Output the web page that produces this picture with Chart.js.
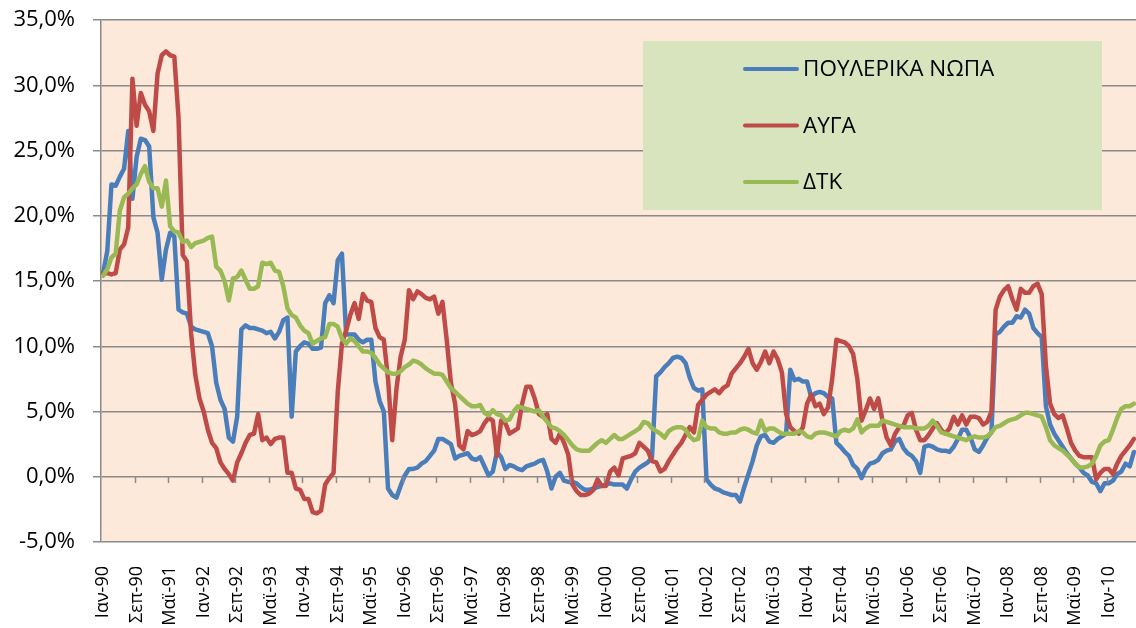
<!DOCTYPE html>
<html>
<head>
<meta charset="utf-8">
<script src="https://cdn.jsdelivr.net/npm/chart.js@4.4.1/dist/chart.umd.min.js"></script>
<style>
  html, body { margin: 0; padding: 0; background: #ffffff; }
  #chart { display: block; }
</style>
</head>
<body>
<canvas id="chart" width="1136" height="628"></canvas>
<script>
// --- Δεδομένα: μηνιαίες μεταβολές (%) Ιαν-90 έως Ιουλ-10 ---

const monthNames = ['Ιαν', 'Φεβ', 'Μαρ', 'Απρ', 'Μαϊ', 'Ιουν', 'Ιουλ', 'Αυγ', 'Σεπ', 'Οκτ', 'Νοε', 'Δεκ'];
const firstYear = 1990;
const monthCount = 247;
const seriesNames = ['ΠΟΥΛΕΡΙΚΑ ΝΩΠΑ', 'ΑΥΓΑ', 'ΔΤΚ'];
const yTicks = [-5, 0, 5, 10, 15, 20, 25, 30, 35];

const poulerika = [
    15.6, 17.3, 22.4, 22.3, 23.0, 23.6, 26.5, 21.3, 24.5, 25.9, 25.8, 25.3,
    19.9, 18.7, 15.1, 17.4, 18.7, 18.4, 12.8, 12.6, 12.5, 11.5, 11.3, 11.2,
    11.1, 11.0, 10.0, 7.2, 5.9, 5.2, 3.0, 2.7, 4.6, 11.3, 11.6, 11.4,
    11.4, 11.3, 11.2, 11.0, 11.1, 10.6, 11.1, 12.0, 12.2, 4.6, 9.6, 10.0,
    10.3, 10.2, 9.8, 9.8, 9.9, 13.3, 13.9, 13.3, 16.6, 17.1, 10.9, 10.9,
    10.9, 10.5, 10.3, 10.5, 10.5, 7.3, 5.8, 5.0, -0.9, -1.4, -1.6, -0.7,
    0.1, 0.6, 0.6, 0.7, 1.0, 1.2, 1.6, 2.0, 2.9, 2.9, 2.7, 2.5,
    1.4, 1.6, 1.7, 1.8, 1.4, 1.3, 1.5, 0.8, 0.1, 0.4, 1.9, 1.5,
    0.6, 0.9, 0.8, 0.6, 0.5, 0.8, 0.9, 1.0, 1.2, 1.3, 0.4, -0.9,
    0.0, 0.3, -0.3, -0.4, -0.4, -0.5, -0.8, -1.0, -1.0, -0.9, -0.8, -0.7,
    -0.6, -0.5, -0.6, -0.6, -0.6, -0.9, -0.2, 0.4, 0.7, 0.9, 1.1, 1.5,
    7.7, 8.0, 8.4, 8.7, 9.1, 9.2, 9.1, 8.7, 7.6, 6.8, 6.6, 6.7,
    -0.2, -0.6, -0.9, -1.0, -1.2, -1.3, -1.4, -1.4, -1.9, -0.8, 0.2, 1.2,
    2.4, 3.1, 3.2, 2.7, 2.6, 2.9, 3.1, 3.3, 8.2, 7.4, 7.5, 7.3,
    7.3, 6.1, 6.4, 6.5, 6.4, 6.1, 6.0, 2.6, 2.3, 1.9, 1.6, 0.9,
    0.6, -0.1, 0.6, 1.0, 1.1, 1.3, 1.8, 2.0, 2.1, 2.7, 2.9, 2.2,
    1.8, 1.6, 1.2, 0.3, 2.3, 2.4, 2.3, 2.1, 2.0, 2.0, 1.9, 2.3,
    2.9, 3.6, 3.6, 3.0, 2.1, 1.9, 2.4, 3.0, 3.4, 10.9, 11.1, 11.5,
    11.8, 11.8, 12.3, 12.2, 12.8, 12.5, 11.4, 11.0, 10.7, 5.4, 4.0, 3.3,
    2.8, 2.3, 1.8, 1.4, 1.0, 0.7, 0.3, 0.1, -0.4, -0.5, -1.1, -0.5,
    -0.5, -0.3, 0.2, 0.4, 1.0, 0.8, 1.9
];

const avga = [
    15.6, 15.6, 15.5, 15.6, 17.4, 17.8, 19.1, 30.5, 26.9, 29.4, 28.5, 28.0,
    26.5, 30.9, 32.3, 32.6, 32.3, 32.2, 27.5, 17.0, 16.5, 11.0, 7.8, 6.0,
    5.0, 3.6, 2.6, 2.2, 1.1, 0.6, 0.2, -0.3, 1.1, 1.8, 2.6, 3.2,
    3.3, 4.8, 2.8, 3.0, 2.5, 2.9, 3.0, 3.0, 0.3, 0.3, -0.9, -1.0,
    -1.7, -1.7, -2.7, -2.8, -2.6, -0.6, -0.1, 0.3, 6.5, 10.2, 11.2, 12.4,
    13.3, 12.1, 14.0, 13.5, 13.4, 11.4, 10.7, 10.5, 7.5, 2.8, 6.7, 9.2,
    10.5, 14.3, 13.6, 14.2, 14.0, 13.7, 13.6, 13.8, 12.5, 13.4, 10.5, 7.2,
    5.6, 2.4, 2.1, 3.5, 3.2, 3.3, 3.5, 4.1, 4.5, 4.3, 1.6, 4.3,
    4.1, 3.3, 3.5, 3.7, 5.6, 6.9, 6.9, 6.0, 4.8, 4.6, 4.8, 2.9,
    2.6, 3.3, 2.6, 1.7, -0.6, -1.1, -1.4, -1.4, -1.3, -1.0, -0.2, -0.7,
    -0.7, 0.4, 0.7, 0.1, 1.4, 1.5, 1.6, 1.8, 2.6, 2.3, 2.0, 1.2,
    1.1, 0.4, 0.6, 1.2, 1.7, 2.2, 2.6, 3.2, 3.8, 3.4, 5.5, 5.9,
    6.3, 6.5, 6.7, 6.4, 6.8, 7.0, 7.9, 8.3, 8.7, 9.2, 9.8, 8.7,
    8.2, 8.8, 9.6, 8.7, 9.6, 9.0, 8.0, 4.8, 3.8, 3.5, 3.3, 3.8,
    5.6, 6.3, 5.4, 5.6, 4.8, 5.3, 7.5, 10.5, 10.4, 10.3, 10.0, 9.4,
    7.5, 4.3, 5.1, 6.0, 5.2, 6.0, 4.3, 3.0, 2.4, 3.3, 3.8, 3.9,
    4.7, 4.9, 3.6, 2.8, 2.8, 3.2, 3.7, 4.1, 3.6, 3.3, 3.7, 4.6,
    4.0, 4.7, 4.0, 4.6, 4.6, 4.5, 4.0, 4.2, 5.0, 12.8, 13.8, 14.3,
    14.6, 13.6, 12.8, 14.4, 14.1, 14.1, 14.6, 14.8, 14.0, 8.5, 5.6, 4.8,
    4.5, 4.7, 3.7, 2.6, 2.0, 1.6, 1.5, 1.5, 1.5, -0.2, 0.3, 0.6,
    0.6, 0.2, 1.0, 1.6, 2.0, 2.4, 2.9
];

const dtk = [
    15.4, 15.9, 16.8, 17.1, 20.4, 21.4, 21.7, 22.1, 22.4, 23.2, 23.8, 22.6,
    22.1, 22.1, 20.7, 22.7, 19.2, 18.8, 18.7, 18.0, 18.1, 17.6, 17.9, 18.0,
    18.1, 18.3, 18.4, 16.1, 15.8, 15.0, 13.5, 15.2, 15.3, 15.8, 15.1, 14.4,
    14.4, 14.6, 16.4, 16.3, 16.4, 15.8, 15.7, 14.6, 12.9, 12.4, 12.2, 11.6,
    11.2, 11.0, 10.2, 10.4, 10.6, 10.7, 11.7, 11.7, 11.5, 10.6, 10.2, 10.6,
    10.4, 10.0, 9.6, 9.6, 9.5, 9.1, 8.6, 8.3, 8.0, 7.9, 7.9, 8.1,
    8.4, 8.6, 8.9, 8.8, 8.6, 8.3, 8.1, 7.9, 7.9, 7.8, 7.3, 6.8,
    6.5, 6.2, 5.9, 5.6, 5.4, 5.4, 5.5, 4.9, 4.7, 5.1, 4.8, 4.7,
    4.3, 4.4, 5.0, 5.4, 5.3, 5.2, 5.1, 5.0, 5.1, 4.6, 4.2, 3.8,
    3.7, 3.5, 3.2, 2.8, 2.4, 2.1, 2.0, 2.0, 2.0, 2.3, 2.6, 2.8,
    2.6, 2.9, 3.2, 2.9, 2.9, 3.1, 3.3, 3.5, 3.7, 4.2, 4.1, 3.7,
    3.5, 3.3, 3.0, 3.5, 3.7, 3.8, 3.8, 3.6, 3.1, 2.8, 2.9, 4.3,
    3.8, 3.7, 3.7, 3.4, 3.3, 3.3, 3.4, 3.4, 3.6, 3.7, 3.6, 3.4,
    3.3, 4.3, 3.5, 3.7, 3.7, 3.5, 3.3, 3.3, 3.3, 3.3, 3.5, 3.4,
    3.1, 3.0, 3.3, 3.4, 3.4, 3.3, 3.2, 3.1, 3.5, 3.6, 3.5, 3.7,
    4.4, 3.4, 3.7, 3.9, 3.9, 3.9, 4.3, 4.2, 4.1, 4.0, 3.9, 3.8,
    3.8, 3.8, 3.7, 3.7, 3.7, 3.9, 4.3, 3.9, 3.4, 3.3, 3.2, 3.1,
    3.0, 2.9, 2.8, 3.0, 3.1, 3.0, 3.0, 3.1, 3.4, 3.8, 3.9, 4.1,
    4.3, 4.4, 4.5, 4.7, 4.9, 4.9, 4.8, 4.7, 4.6, 3.8, 2.8, 2.4,
    2.2, 2.0, 1.7, 1.4, 1.0, 0.7, 0.7, 0.8, 1.0, 1.6, 2.4, 2.7,
    2.8, 3.6, 4.5, 5.2, 5.4, 5.4, 5.6
];

// ετικέτες μηνών: Ιαν-90, Φεβ-90, ...
const labels = [];
for (let i = 0; i < monthCount; i++) {
    const year = firstYear + Math.floor(i / 12);
    labels.push(monthNames[i % 12] + '-' + String(year % 100).padStart(2, '0'));
}

const FONT = "'Open Sans', 'DejaVu Sans', sans-serif";
const GRID = '#8a8a8a';

// φόντο περιοχής γραφήματος
const plotBackground = {
    id: 'plotBackground',
    beforeDraw(chart) {
        const a = chart.chartArea;
        const ctx = chart.ctx;
        ctx.save();
        ctx.fillStyle = '#FDE9D9';
        ctx.fillRect(a.left, a.top, a.right - a.left, a.bottom - a.top);
        ctx.restore();
    }
};

// μικρές υποδιαιρέσεις του άξονα Χ πάνω στη γραμμή του 0%
const zeroAxisTicks = {
    id: 'zeroAxisTicks',
    afterDatasetsDraw(chart) {
        const x = chart.scales.x, y = chart.scales.y;
        const ctx = chart.ctx;
        const half = (x.getPixelForValue(1) - x.getPixelForValue(0)) / 2;
        const y0 = Math.round(y.getPixelForValue(0));
        ctx.save();
        ctx.strokeStyle = GRID;
        ctx.lineWidth = 1.5;
        ctx.beginPath();
        for (let i = 8; i < monthCount; i += 8) {
            const px = Math.round(x.getPixelForValue(i) - half) + 0.5;
            ctx.moveTo(px, y0);
            ctx.lineTo(px, y0 + 6);
        }
        ctx.stroke();
        ctx.restore();
    }
};

// υπόμνημα σε πράσινο πλαίσιο μέσα στο γράφημα
const boxLegend = {
    id: 'boxLegend',
    afterDraw(chart) {
        const ctx = chart.ctx;
        ctx.save();
        ctx.fillStyle = '#D8E4BD';
        ctx.fillRect(643, 41, 459, 169);
        ctx.font = '22.5px ' + FONT;
        ctx.textBaseline = 'middle';
        ctx.lineCap = 'round';
        chart.data.datasets.forEach((ds, i) => {
            const yy = 69 + i * 56.5;
            ctx.strokeStyle = ds.borderColor;
            ctx.lineWidth = 4;
            ctx.beginPath();
            ctx.moveTo(745, yy);
            ctx.lineTo(797, yy);
            ctx.stroke();
            ctx.fillStyle = '#000000';
            ctx.fillText(ds.label, 803, yy + 1);
        });
        ctx.restore();
    }
};

new Chart(document.getElementById('chart'), {
    type: 'line',
    data: {
        labels: labels,
        datasets: [{
            label: seriesNames[0],
            data: poulerika,
            borderColor: '#4A7EBB',
            order: 2
        }, {
            label: seriesNames[1],
            data: avga,
            borderColor: '#BE4B48',
            order: 1
        }, {
            label: seriesNames[2],
            data: dtk,
            borderColor: '#98B954',
            order: 0
        }]
    },
    options: {
        responsive: false,
        animation: false,
        layout: { padding: 0 },
        elements: {
            line: { borderWidth: 4.5, tension: 0, borderJoinStyle: 'round', borderCapStyle: 'round' },
            point: { radius: 0 }
        },
        plugins: { legend: { display: false }, tooltip: { enabled: false } },
        scales: {
            x: {
                type: 'category',
                offset: true,
                grid: { display: false, drawTicks: false },
                border: { display: false },
                ticks: {
                    autoSkip: false,
                    minRotation: 90,
                    maxRotation: 90,
                    padding: 24,
                    color: '#000000',
                    font: { family: FONT, size: 18 },
                    callback: function (value, index) {
                        return index % 8 === 0 ? this.getLabelForValue(value) : null;
                    }
                },
                afterFit: (scale) => {
                    scale.height = 86;
                    scale.paddingLeft = 0;
                    scale.paddingRight = 0;
                }
            },
            y: {
                min: yTicks[0],
                max: yTicks[yTicks.length - 1],
                afterBuildTicks: (scale) => { scale.ticks = yTicks.map(v => ({ value: v })); },
                grid: { color: GRID, lineWidth: 1.5, tickLength: 8 },
                border: { color: GRID, width: 1.5 },
                ticks: {
                    padding: 18,
                    color: '#000000',
                    font: { family: FONT, size: 22 },
                    callback: (v) => v.toFixed(1).replace('.', ',') + '%'
                },
                afterFit: (scale) => {
                    scale.width = 101;
                    scale.paddingTop = 20;
                    scale.paddingBottom = 0;
                }
            }
        }
    },
    plugins: [plotBackground, zeroAxisTicks, boxLegend]
});
</script>
</body>
</html>
